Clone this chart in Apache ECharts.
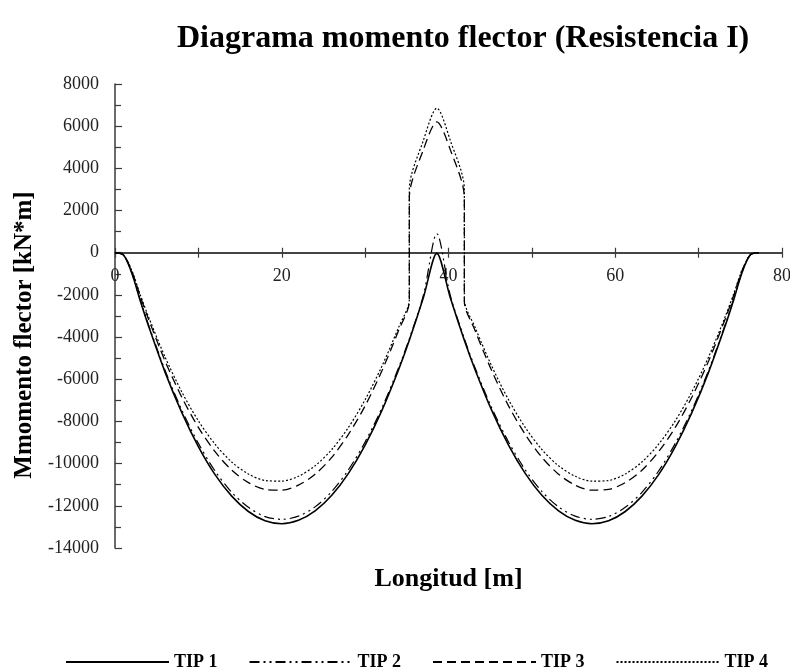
<!DOCTYPE html>
<html>
<head>
<meta charset="utf-8">
<script src="https://cdn.jsdelivr.net/npm/echarts@6/dist/echarts.min.js"></script>
<style>
    html, body { margin: 0; padding: 0; background: #fff; }
    #chart-box { width: 790px; height: 672px; }
</style>
</head>
<body>
<div id="chart-box"></div>
<script>
// estaciones a lo largo del puente [m]
var estaciones = [0, 1, 2, 3, 4, 6, 8, 10, 12, 14, 16, 18, 20, 22, 24, 26, 28, 30, 32, 34, 35.3, 35.3, 37, 38.6,
    40.2, 41.9, 41.9, 43.2, 45.2, 47.2, 49.2, 51.2, 53.2, 55.2, 57.2, 59.2, 61.2, 63.2, 65.2, 67.2, 69.2, 71.2, 73.2, 74.2, 75.2, 76.2, 77.2];

// momentos [kN*m]
var tip1 = [0, -100, -950, -2240, -3450, -5660, -7570, -9190, -10520, -11540, -12270, -12710, -12850, -12690, -12240, -11500, -10460, -9120, -7490, -5560, -4150, -4150, -2110, -30,
    -2110, -4150, -4150, -5560, -7490, -9120, -10460, -11500, -12240, -12690, -12850, -12710, -12270, -11540, -10520, -9190, -7570, -5660, -3450, -2240, -950, -100, 0];
var tip2 = [0, -100, -935, -2200, -3395, -5570, -7450, -9040, -10350, -11360, -12070, -12510, -12640, -12490, -12050, -11320, -10290, -8970, -7370, -5470, -4080, -4080, -2000, 900,
    -2000, -4080, -4080, -5470, -7370, -8970, -10290, -11320, -12050, -12490, -12640, -12510, -12070, -11360, -10350, -9040, -7450, -5570, -3395, -2200, -935, -100, 0];
var tip3 = [0, -100, -860, -2030, -3130, -5130, -6840, -8280, -9430, -10310, -10900, -11220, -11260, -11020, -10500, -9700, -8610, -7260, -5610, -3700, -2300, 2600, 4900, 6200,
    4900, 2600, -2300, -3700, -5610, -7260, -8610, -9700, -10500, -11020, -11260, -11220, -10900, -10310, -9430, -8280, -6840, -5130, -3130, -2030, -860, -100, 0];
var tip4 = [0, -100, -830, -1960, -3020, -4940, -6590, -7970, -9080, -9920, -10490, -10800, -10830, -10600, -10100, -9330, -8280, -6970, -5390, -3550, -2200, 3000, 5340, 6850,
    5340, 3000, -2200, -3550, -5390, -6970, -8280, -9330, -10100, -10600, -10830, -10800, -10490, -9920, -9080, -7970, -6590, -4940, -3020, -1960, -830, -100, 0];

var nombres = ['TIP 1', 'TIP 2', 'TIP 3', 'TIP 4'];

function pares(valores) {
    return estaciones.map(function (x, i) { return [x, valores[i]]; });
}

var fuente = 'Liberation Serif';
var ejeColor = '#3a3a3a';
// el eje x va en M = 0: 14000 de 22000 del alto de la rejilla (464 px) por encima del borde inferior
var altoRejilla = 464;
var desplazamientoX = -altoRejilla * 14000 / 22000;

var chart = echarts.init(document.getElementById('chart-box'));

var option = {
    animation: false,
    title: {
        text: 'Diagrama momento flector (Resistencia I)',
        left: 172,
        top: 18,
        textStyle: {
            fontFamily: fuente,
            fontWeight: 'bold',
            fontSize: 32,
            color: '#000'
        }
    },
    legend: {
        data: nombres,
        left: 60,
        top: 648,
        itemWidth: 103,
        itemHeight: 14,
        itemGap: 31,
        itemStyle: { opacity: 0 },
        textStyle: {
            fontFamily: fuente,
            fontWeight: 'bold',
            fontSize: 18,
            color: '#000'
        }
    },
    grid: {
        left: 115,
        right: 8,
        top: 84,
        bottom: 124,
        containLabel: false,
        outerBoundsMode: 'none'
    },
    xAxis: [{
        type: 'value',
        min: 0,
        max: 80,
        interval: 10,
        offset: desplazamientoX,
        name: 'Longitud [m]',
        nameLocation: 'middle',
        nameGap: 314,
        nameTextStyle: {
            fontFamily: fuente,
            fontWeight: 'bold',
            fontSize: 26,
            color: '#000'
        },
        axisLine: { onZero: false, lineStyle: { color: ejeColor, width: 1.5 } },
        axisTick: { show: true, length: 5, lineStyle: { color: ejeColor, width: 1.2 } },
        axisLabel: {
            margin: 15,
            fontFamily: fuente,
            fontSize: 18,
            color: '#222',
            formatter: function (v) { return v % 20 === 0 ? String(v) : ''; }
        },
        splitLine: { show: false }
    }, {
        // segundo eje solo para que las marcas crucen la línea
        type: 'value',
        position: 'bottom',
        min: 0,
        max: 80,
        interval: 10,
        offset: desplazamientoX,
        axisLine: { onZero: false, lineStyle: { color: ejeColor, width: 1.5 } },
        axisTick: { show: true, inside: true, length: 5, lineStyle: { color: ejeColor, width: 1.2 } },
        axisLabel: { show: false },
        splitLine: { show: false }
    }],
    yAxis: {
        type: 'value',
        min: -14000,
        max: 8000,
        interval: 2000,
        name: 'Mmomento flector [kN*m]',
        nameLocation: 'middle',
        nameGap: 61,
        nameTextStyle: {
            fontFamily: fuente,
            fontWeight: 'bold',
            fontSize: 25,
            color: '#000',
            padding: [0, 38, 0, 0]
        },
        axisLine: { show: true, onZero: false, lineStyle: { color: ejeColor, width: 1.5 } },
        axisTick: { show: true, inside: true, length: 7, lineStyle: { color: ejeColor, width: 1.2 } },
        minorTick: { show: true, splitNumber: 2, length: 6, lineStyle: { color: ejeColor, width: 1.2 } },
        axisLabel: {
            margin: 16,
            fontFamily: fuente,
            fontSize: 18,
            color: '#222',
            formatter: function (v) { return String(v); }
        },
        splitLine: { show: false }
    },
    series: [{
        name: 'TIP 1',
        type: 'line',
        symbol: 'none',
        smooth: 0.3,
        lineStyle: { color: '#000', width: 1.6, type: 'solid' },
        itemStyle: { color: '#000' },
        data: pares(tip1)
    }, {
        name: 'TIP 2',
        type: 'line',
        symbol: 'none',
        smooth: 0.3,
        lineStyle: { color: '#000', width: 1.2, type: [10, 4, 2, 4, 2, 4] },
        itemStyle: { color: '#000' },
        data: pares(tip2)
    }, {
        name: 'TIP 3',
        type: 'line',
        symbol: 'none',
        smooth: 0.3,
        lineStyle: { color: '#000', width: 1.3, type: [9, 5] },
        itemStyle: { color: '#000' },
        data: pares(tip3)
    }, {
        name: 'TIP 4',
        type: 'line',
        symbol: 'none',
        smooth: 0.3,
        lineStyle: { color: '#000', width: 1.2, type: [2, 2] },
        itemStyle: { color: '#000' },
        data: pares(tip4)
    }]
};

chart.setOption(option);
</script>
</body>
</html>
